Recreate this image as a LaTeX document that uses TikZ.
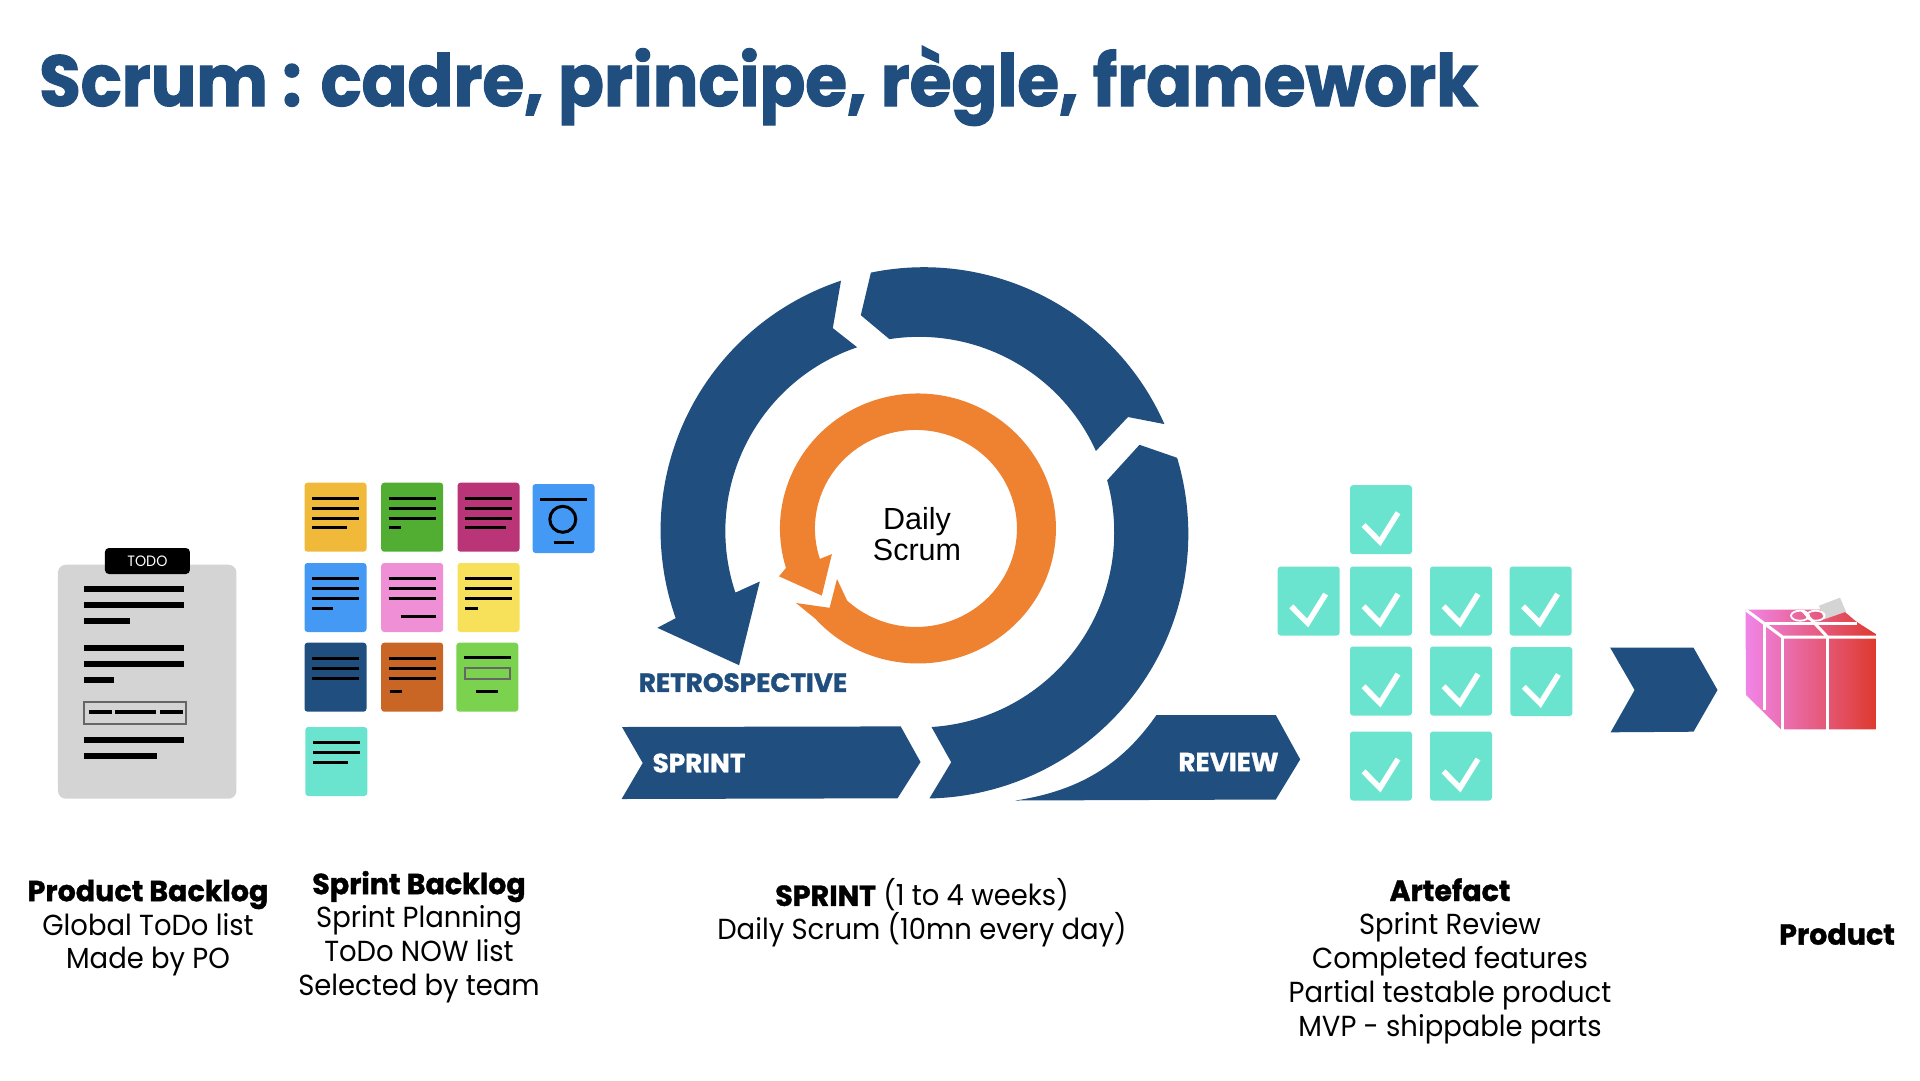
\documentclass[tikz,border=0pt]{standalone}
\usepackage{fontspec}
\setmainfont{Poppins}[FakeStretch=0.946,BoldFeatures={FakeStretch=0.984,FakeBold=1.2}]
\newfontfamily\headfont{Poppins}[FakeStretch=0.94,BoldFeatures={FakeBold=1.6}]
\newfontfamily\labelfont{Poppins}[BoldFeatures={FakeBold=1.2}]
\newfontfamily\dailyfont{Liberation Sans}
\usetikzlibrary{positioning}
\definecolor{navy}{HTML}{1F4E7F}
\definecolor{scrumorange}{HTML}{EE8230}
\definecolor{aqua}{HTML}{6BE4CF}
\definecolor{clipgray}{HTML}{D4D4D4}
\definecolor{amber}{HTML}{F0B93A}
\definecolor{grass}{HTML}{52AE32}
\definecolor{plum}{HTML}{B93578}
\definecolor{sky}{HTML}{4499F5}
\definecolor{rosa}{HTML}{EF8FD6}
\definecolor{lemon}{HTML}{F7E05A}
\definecolor{rust}{HTML}{C96626}
\definecolor{lime}{HTML}{7BD24E}
\definecolor{giftleft}{HTML}{F085E8}
\definecolor{giftmid}{HTML}{E868A8}
\definecolor{giftright}{HTML}{DE3A2E}
\begin{document}
\begin{tikzpicture}
		[x=1pt,y=1pt,yscale=-1,
		note/.style={rectangle,rounded corners=3pt,minimum width=62pt,minimum height=69pt,inner sep=0pt},
		card/.style={note,fill=aqua},
		noteline/.style={line width=3pt},
		barline/.style={line width=6pt},
		tickline/.style={draw=white,line width=5.5pt},
		giftline/.style={draw=white,line width=3pt},
		caption/.style={align=center,inner sep=0pt,font=\fontsize{29}{33.8}\selectfont},
		arrowtext/.style={inner sep=0pt,font=\labelfont\fontsize{26.3}{26.3}\selectfont\bfseries}]
		\useasboundingbox (0,0) rectangle (1920,1080);
		\fill[white] (0,0) rectangle (1920,1080);
		
		\node[anchor=base west,inner sep=0pt,text=navy,font=\headfont\fontsize{72}{72}\selectfont\bfseries] (title) at (39,106) {Scrum : cadre, principe, règle, framework};
		
		\node[rectangle,rounded corners=8pt,fill=clipgray,minimum width=178.5pt,minimum height=234pt,inner sep=0pt] (clipboard) at (147.2,681.7) {};
		\node[rectangle,rounded corners=4pt,fill=black,text=white,minimum width=85pt,minimum height=26pt,inner sep=0pt,font=\fontsize{15}{15}\selectfont] (todo) at (147.4,561) {TODO};
		\foreach \by/\blen in {588.7/100, 604.7/100, 620.7/46.5, 647.7/100, 663.7/100, 679.7/30, 740/100, 756/73}
		\draw[barline] (83.8,\by) -- ++(\blen,0);
		\node[rectangle,draw=black!60,line width=2pt,minimum width=102pt,minimum height=22pt,inner sep=0pt] (todobox) at (135.2,713) {};
		\foreach \dfrom/\dlen in {88.6/23.4, 114.7/41.3, 160/23}
		\draw[line width=4pt] (\dfrom,712) -- ++(\dlen,0);
		
		\foreach \name/\nx/\ny/\col in {n1/335.5/517.2/amber, n2/412.2/517.2/grass, n3/488.5/517.2/plum, n4/563.6/518.5/sky, n5/335.5/597.5/sky, n6/412.2/597.5/rosa, n7/488.5/597.5/lemon, n8/335.5/677.2/navy, n9/412.2/677.2/rust, n10/487.3/677.2/lime, n11/336.3/761.5/aqua}
		\node[note,fill=\col] (\name) at (\nx,\ny) {};
		
		\foreach \nx/\ny in {335.5/517.2, 412.2/517.2, 488.5/517.2, 335.5/597.5, 412.2/597.5, 488.5/597.5, 335.5/677.2, 412.2/677.2}
		\foreach \dy in {-19.2,-9.2,0.8}
		\draw[noteline] (\nx-23.5,\ny+\dy) -- ++(47,0);
		\foreach \nx/\ny/\dx/\len in {335.5/527.9/-23.5/35, 412.2/527.9/-23.5/12.6, 488.5/527.9/-23.5/41, 335.5/608/-23.5/21, 412.2/616/-11.5/35, 488.5/608/-23.5/12.6, 412.2/691/-22.5/12.6, 487.3/691/-11/22, 563.6/542.3/-10/20.5}
		\draw[noteline] (\nx+\dx,\ny) -- ++(\len,0);
		\draw[noteline] (540,499.5) -- ++(47,0);
		\node[circle,draw=black,line width=3pt,minimum size=26pt,inner sep=0pt] (noteO) at (562.8,519.3) {};
		\draw[noteline] (463.8,657.7) -- ++(47,0);
		\node[rectangle,draw=black!60,line width=2pt,minimum width=45pt,minimum height=11pt,inner sep=0pt] (notebox) at (487.3,673.5) {};
		\draw[noteline] (312.8,742) -- ++(47,0);
		\draw[noteline] (313.3,752) -- ++(47,0);
		\draw[noteline] (312.8,762) -- ++(35,0);
		
		\fill[navy] (870.9,272.6) arc[start angle=258.4,end angle=336.2,radius=263] -- (1128,417) -- (1095.9,451) arc[start angle=335.7,end angle=261.2,radius=194] -- (860.8,315.2) -- cycle;
		\fill[navy] (841,280.7) arc[start angle=251.7,end angle=160.5,radius=263] -- (657.4,627.8) -- (739.1,665.2) -- (759.8,581.5) -- (735.4,592.6) arc[start angle=161.5,end angle=251.3,radius=194] -- (832.8,328.1) -- cycle;
		\fill[navy] (1139.5,444.8) -- (1177.1,457.8) arc[start angle=-16.75,end angle=88.8,radius=264.5] -- (951.2,762.2) -- (931.5,727) arc[start angle=86.4,end angle=-15.5,radius=195] -- cycle;
		\fill[scrumorange] (796,603) -- (815.4,618.8) arc[start angle=138,end angle=-197,x radius=138,y radius=135] -- (779,576.3) -- (821.8,595.6) -- (831.9,554.1) -- (819.9,558.9) arc[start angle=-198,end angle=133,x radius=101,y radius=98.5] -- (837,579) -- (829.6,607.8) -- cycle;
		
		\node[align=center,inner sep=0pt,font=\dailyfont\fontsize{30.5}{30.5}\selectfont] (daily) at (917,534) {Daily\\Scrum};
		\node[arrowtext,text=navy] (retro) at (743,682.6) {RETROSPECTIVE};
		
		\fill[navy] (622,727) -- (900.7,726.4) -- (920.5,762) -- (897.5,798.3) -- (621.6,799) -- (642.7,763) -- cycle;
		\node[arrowtext,text=white] (sprint) at (699,763) {SPRINT};
		\fill[navy] (1156.5,715) -- (1275.8,715) -- (1300.2,759.4) -- (1275.8,799.5) -- (1015.5,800.5) .. controls (1085,790) and (1125,760) .. (1156.5,715) -- cycle;
		\node[arrowtext,text=white] (review) at (1228.5,762) {REVIEW};
		
		\foreach \name/\cx/\cy in {a1/1381/519.7, a2/1308.7/601, a3/1381/601, a4/1461/601, a5/1540.6/601, a6/1381/681, a7/1461/681, a8/1541.4/681.5, a9/1381/766, a10/1461/766}
		{
		\node[card] (\name) at (\cx,\cy) {};
		\draw[tickline] (\cx-17.5,\cy+5.3) -- (\cx-1,\cy+22) -- (\cx+17,\cy-7);
		}
		
		\fill[navy] (1610.2,647.7) -- (1693.5,647.7) -- (1717.5,690) -- (1693.5,731.7) -- (1610.6,732.3) -- (1634.6,690) -- cycle;
		
		\shade[left color=giftleft,middle color=giftmid,right color=giftright] (1745.5,609.5) -- (1842,609.5) -- (1855.5,621) -- (1860,624) -- (1875.7,634) -- (1875.7,729.3) -- (1781,729.3) -- (1746,695) -- cycle;
		\fill[clipgray] (1819,605.7) -- (1840,597.7) -- (1846,611.7) -- (1824,619.3) -- cycle;
		\draw[giftline] (1746,610) -- (1782.5,637) -- (1876,637);
		\draw[giftline] (1782.5,637) -- (1782.5,730);
		\draw[giftline] (1827.5,637) -- (1827.5,730);
		\draw[giftline] (1764,622) -- (1764,710);
		\draw[giftline] (1764,623) -- (1857,623);
		\draw[giftline] (1803,611) -- (1827.5,637);
		\draw[draw=white,line width=1.8pt] (1800,615.7) ellipse[x radius=9,y radius=5];
		\draw[draw=white,line width=1.8pt] (1815.6,615.7) ellipse[x radius=9,y radius=5];
		
		\node[caption] (backlog) at (148,928) {\textbf{Product Backlog}\\Global ToDo list\\Made by PO};
		\node[caption] (sprintlog) at (419,937) {\textbf{Sprint Backlog}\\Sprint Planning\\ToDo NOW list\\Selected by team};
		\node[caption] (sprintcap) at (922,913) {\textbf{SPRINT} (1 to 4 weeks)\\Daily Scrum (10mn every day)};
		\node[caption] (artefact) at (1450,961) {\textbf{Artefact}\\Sprint Review\\Completed features\\Partial testable product\\MVP - shippable parts};
		\node[caption] (product) at (1837,934) {\textbf{Product}};
		\end{tikzpicture}
\end{document}
